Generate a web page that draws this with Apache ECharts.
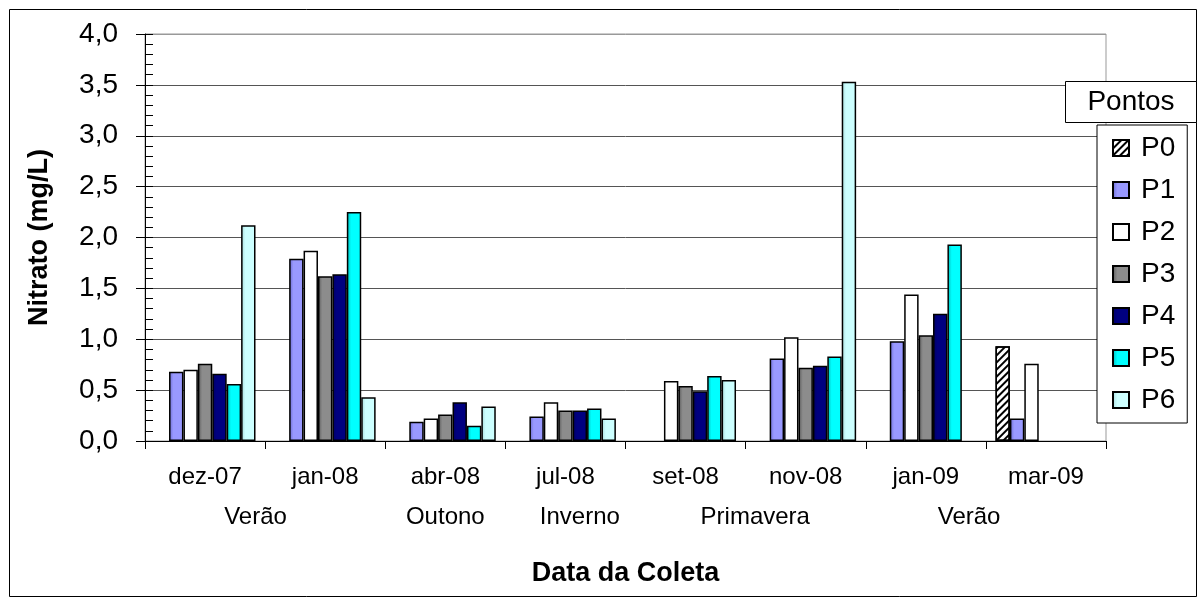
<!DOCTYPE html>
<html>
<head>
<meta charset="utf-8">
<script src="https://cdn.jsdelivr.net/npm/echarts@6/dist/echarts.min.js"></script>
<style>
html,body{margin:0;padding:0;background:#fff;}
#c{width:1198px;height:597px;}
</style>
</head>
<body>
<div id="c"></div>
<script>
// ---- data ----
const categories = ['dez-07','jan-08','abr-08','jul-08','set-08','nov-08','jan-09','mar-09'];
const seriesNames = ['P0','P1','P2','P3','P4','P5','P6'];
const P0 = [null, null, null, null, null, null, null, 0.93];
const P1 = [0.68, 1.79, 0.19, 0.24, null, 0.81, 0.98, 0.22];
const P2 = [0.70, 1.87, 0.22, 0.38, 0.59, 1.02, 1.44, 0.76];
const P3 = [0.76, 1.62, 0.26, 0.30, 0.54, 0.72, 1.04, null];
const P4 = [0.66, 1.64, 0.38, 0.30, 0.49, 0.74, 1.25, null];
const P5 = [0.56, 2.25, 0.15, 0.32, 0.64, 0.83, 1.93, null];
const P6 = [2.12, 0.43, 0.34, 0.22, 0.60, 3.53, null, null];
const seasons = ['Verão','Outono','Inverno','Primavera','Verão'];
const seasonPos = [0.92, 2.5, 3.62, 5.08, 6.86]; // in category widths from axis start
const yMin = 0, yMax = 4, yInterval = 0.5;

// ---- style ----
const FONT = '"Liberation Sans", Arial, sans-serif';
const baseColors = ['#ffffff','#9999ff','#ffffff','#8c8c8c','#000080','#00ffff','#ccffff'];
const darkColors = ['#ffffff','#6a6ad0','#ffffff','#5a5a5a','#000060','#00b8b8','#a8dada'];
const gridL = 145, gridR = 92, gridT = 34, gridB = 156;
const W = 1198, H = 597;

function barColor(i){
  if (i === 2 || i === 0) return baseColors[i];
  return new echarts.graphic.LinearGradient(0,0,1,0,[
    {offset:0,color:darkColors[i]},
    {offset:0.3,color:baseColors[i]},
    {offset:1,color:baseColors[i]}
  ]);
}

const allData = [P0,P1,P2,P3,P4,P5,P6];
const series = allData.map((d,i)=>{
  const s = {
    name: seriesNames[i],
    type: 'bar',
    data: d,
    barGap: '0%',
    barCategoryGap: '16%',
    itemStyle: { color: barColor(i), borderColor:'#000', borderWidth:1.5 }
  };
  if (i === 0) {
    s.itemStyle.decal = {
      symbol: 'rect', color: '#000', backgroundColor: null,
      dashArrayX: [1, 0], dashArrayY: [2, 3], rotation: -Math.PI/4, symbolSize: 1
    };
  }
  return s;
});

const chart = echarts.init(document.getElementById('c'), null, {renderer:'canvas'});
const catW = (W - gridL - gridR) / categories.length;

const splitColors = [];
for (let v = yMin; v <= yMax + 1e-9; v += yInterval) splitColors.push('#555');
splitColors[splitColors.length-1] = '#999';

const option = {
  animation: false,
  backgroundColor: '#fff',
  textStyle: { fontFamily: FONT },
  grid: { left: gridL, right: gridR, top: gridT, bottom: gridB, show: true, borderColor: '#999', borderWidth: 1, backgroundColor: 'transparent' },
  legend: {
    orient: 'vertical', left: 1097, top: 125,
    data: seriesNames,
    icon: 'rect', itemWidth: 16, itemHeight: 16, itemGap: 14,
    padding: [9, 12, 9, 15],
    backgroundColor: '#fff', borderColor: '#000', borderWidth: 1,
    textStyle: { fontFamily: FONT, fontSize: 28, color: '#000', lineHeight: 26, padding: [0,0,0,7] },
    selectedMode: false
  },
  xAxis: {
    type: 'category', data: categories,
    axisLine: { lineStyle: { color: '#000', width: 1 } },
    axisTick: { show: true, length: 8, lineStyle: { color: '#000' } },
    axisLabel: { fontFamily: FONT, fontSize: 24, color: '#000', margin: 24 },
    name: 'Data da Coleta', nameLocation: 'middle', nameGap: 119,
    nameTextStyle: { fontFamily: FONT, fontSize: 27, fontWeight: 'bold', color: '#000' },
    splitLine: { show: false }
  },
  yAxis: [{
    type: 'value', min: yMin, max: yMax, interval: yInterval,
    axisLine: { show: true, lineStyle: { color: '#000' } },
    axisTick: { show: true, length: 9, lineStyle: { color: '#000' } },
    axisLabel: { fontFamily: FONT, fontSize: 28, color: '#000', margin: 27,
      formatter: v => v.toFixed(1).replace('.', ',') },
    splitLine: { show: true, lineStyle: { color: splitColors, width: 1 } },
    name: 'Nitrato (mg/L)', nameLocation: 'middle', nameGap: 92, nameRotate: 90,
    nameTextStyle: { fontFamily: FONT, fontSize: 27, fontWeight: 'bold', color: '#000' }
  },{
    type: 'value', min: yMin, max: yMax, interval: yInterval, position: 'left',
    axisLine: { show: false },
    axisTick: { show: true, inside: true, length: 8, lineStyle: { color: '#000' } },
    minorTick: { show: true, splitNumber: 5, length: 8, lineStyle: { color: '#000' } },
    axisLabel: { show: false }, splitLine: { show: false }
  }],
  series: series,
  graphic: []
};
chart.setOption(option);

// season labels and decorative frames
const graphics = [];
seasons.forEach((s,i)=>{
  graphics.push({ type:'text', x: gridL + seasonPos[i]*catW, y: 517,
    style:{ text: s, font: '24px ' + FONT, fill:'#000', align:'center', verticalAlign:'middle' }, z: 10 });
});
graphics.push({ type:'rect', shape:{ x:9.5, y:9.5, width:1187, height:587 },
  style:{ fill:'none', stroke:'#000', lineWidth:1 }, z: -1, silent:true });
graphics.push({ type:'rect', shape:{ x:1065.5, y:81.5, width:131, height:41 },
  style:{ fill:'#fff', stroke:'#000', lineWidth:1 }, z: 20 });
graphics.push({ type:'text', x: 1131, y: 102.5,
  style:{ text:'Pontos', font:'28px ' + FONT, fill:'#000', align:'center', verticalAlign:'middle' }, z: 21 });
chart.setOption({ graphic: graphics });
</script>
</body>
</html>
